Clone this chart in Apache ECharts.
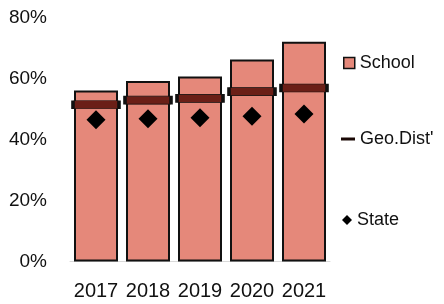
<!DOCTYPE html>
<html><head><meta charset="utf-8">
<script src="https://cdn.jsdelivr.net/npm/echarts@6/dist/echarts.min.js"></script>
<style>html,body{margin:0;padding:0;background:#fff}#c{width:444px;height:304px}</style>
</head><body><div id="c"></div>
<script>
var years = ['2017','2018','2019','2020','2021'];
var school = [56.2, 59.3, 60.8, 66.4, 72.2];
var geoDist = [51.5, 53.0, 53.6, 55.8, 57.0];
var state = [46.6, 46.9, 47.2, 47.7, 48.5];
var yTicks = [0, 20, 40, 60, 80];

var FONT = '"Liberation Sans Narrow", "Liberation Sans", Arial, sans-serif';
var chart = echarts.init(document.getElementById('c'), null, {renderer: 'canvas'});
chart.setOption({
  animation: false,
  grid: {left: 70, right: 114, top: 18, bottom: 42.5},
  xAxis: {
    type: 'category', data: years,
    axisLine: {lineStyle: {color: '#d9d9d9', width: 1}},
    axisTick: {show: false},
    axisLabel: {color: '#111', fontSize: 20, fontFamily: FONT, margin: 20, interval: 0}
  },
  yAxis: {
    type: 'value', min: yTicks[0], max: yTicks[yTicks.length-1], interval: 20,
    splitLine: {show: false},
    axisLine: {show: false}, axisTick: {show: false},
    axisLabel: {color: '#111', fontSize: 19, fontFamily: FONT, margin: 23,
      formatter: function(v){ return v + '%'; }}
  },
  legend: [
    {orient: 'vertical', left: 343, top: 54, padding: 0,
     data: [{name: 'School', icon: 'rect', itemStyle: {color: '#E5887A', borderColor: '#111', borderWidth: 1.5}}],
     itemWidth: 11, itemHeight: 11,
     textStyle: {fontSize: 18, fontFamily: FONT, color: '#111'}},
    {orient: 'vertical', left: 341, top: 130, padding: 0,
     data: [{name: "Geo.Dist'", icon: 'rect', itemStyle: {color: '#1a0805', borderWidth: 0}}],
     itemWidth: 14, itemHeight: 3,
     textStyle: {fontSize: 18, fontFamily: FONT, color: '#111'}},
    {orient: 'vertical', left: 342, top: 211, padding: 0,
     data: [{name: 'State', icon: 'diamond', itemStyle: {color: '#000', borderWidth: 0}}],
     itemWidth: 10, itemHeight: 10,
     textStyle: {fontSize: 18, fontFamily: FONT, color: '#111'}}
  ],
  series: [
    {name: 'School', type: 'bar', data: school, barWidth: 44,
     itemStyle: {color: '#E5887A', borderColor: '#111', borderWidth: 2}},
    {name: "Geo.Dist'", type: 'scatter', data: geoDist, symbol: 'rect', symbolSize: [46, 8],
     itemStyle: {color: '#6B1F17', borderColor: '#111', borderWidth: 1.5, opacity: 1}, z: 3},
    {name: 'State', type: 'scatter', data: state, symbol: 'diamond', symbolSize: 19,
     itemStyle: {color: '#000', opacity: 1}, z: 4}
  ]
});
</script></body></html>
